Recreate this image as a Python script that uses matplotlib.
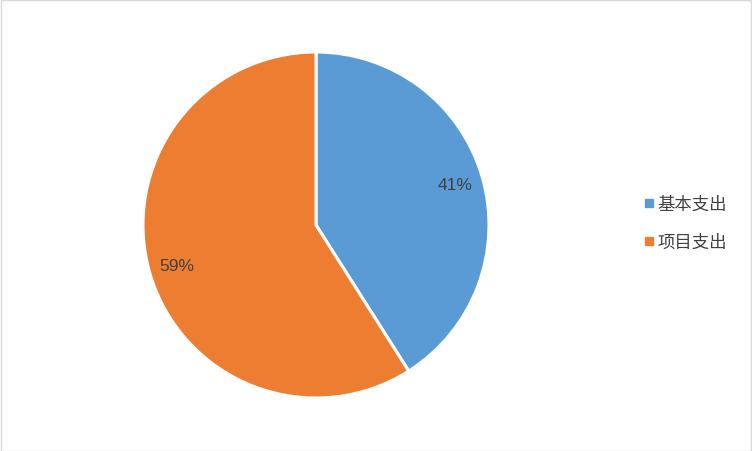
import matplotlib.pyplot as plt
from matplotlib.lines import Line2D
from matplotlib.patches import Rectangle

plt.rcParams['font.family'] = ['Noto Sans CJK SC', 'DejaVu Sans']

labels = ["基本支出", "项目支出"]
shares = [41, 59]
colors = ["#5b9bd5", "#ed7d31"]

fig = plt.figure(figsize=(7.52, 4.52), dpi=100)
W, H = 752, 452
cx, cy, r = 316, 226, 173
ax = fig.add_axes([(cx - r) / W, (H - cy - r) / H, 2 * r / W, 2 * r / H])

wedges, texts, autotexts = ax.pie(
    shares, colors=colors, startangle=90, counterclock=False,
    autopct=lambda p: "%d%%" % round(p), pctdistance=0.84,
    wedgeprops=dict(edgecolor="white", linewidth=2.2),
    textprops=dict(color="#404040"),
)
for t in autotexts:
    t.set_family("Liberation Sans")
    t.set_fontsize(12.5)
ax.set_xlim(-1, 1)
ax.set_ylim(-1, 1)
ax.set_aspect("equal")

handles = [Line2D([], [], marker="s", linestyle="none", markersize=6,
                  markerfacecolor=c, markeredgecolor=c) for c in colors]
fig.legend(handles, labels, loc="center left", bbox_to_anchor=(628 / W, 1 - 224 / H),
           frameon=False, fontsize=12.5, labelcolor="#404040",
           handlelength=0.6, handletextpad=0.2, labelspacing=1.15)

fig.patches.append(Rectangle((0.5 / W, 0.5 / H), 1 - 1.5 / W, 1 - 1.5 / H,
                             transform=fig.transFigure, fill=False,
                             edgecolor="#d9d9d9", linewidth=1))

fig.savefig("out.png", dpi=100)
